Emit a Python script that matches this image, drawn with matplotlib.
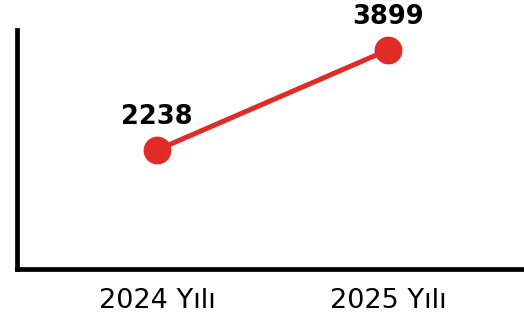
import matplotlib
matplotlib.use('Agg')
import matplotlib.pyplot as plt

# veriler
years = ['2024 Yılı', '2025 Yılı']
values = [2238, 3899]

red = '#e02b27'

fig = plt.figure(figsize=(5.24, 3.18), dpi=100)
ax = fig.add_axes([17/524, 49/318, 507/524, 239/318])

xs = list(range(len(years)))
ax.plot(xs, values, color=red, lw=3.6, marker='o', ms=19, clip_on=False, zorder=3)

for x, v in zip(xs, values):
    ax.annotate(str(v), (x, v), xytext=(0, 24), textcoords='offset points',
                ha='center', va='center', fontsize=18.5, fontweight='bold', color='black')

ax.set_xlim(-0.606, 1.589)
ax.set_ylim(261, 4231)
ax.set_xticks(xs)
ax.set_xticklabels(years, fontsize=19.5)
ax.set_yticks([])
ax.tick_params(axis='x', length=0, pad=14)

for s in ['top', 'right']:
    ax.spines[s].set_visible(False)
ax.spines['left'].set_linewidth(3.4)
ax.spines['bottom'].set_linewidth(3.4)

fig.savefig('out.png', dpi=100)
